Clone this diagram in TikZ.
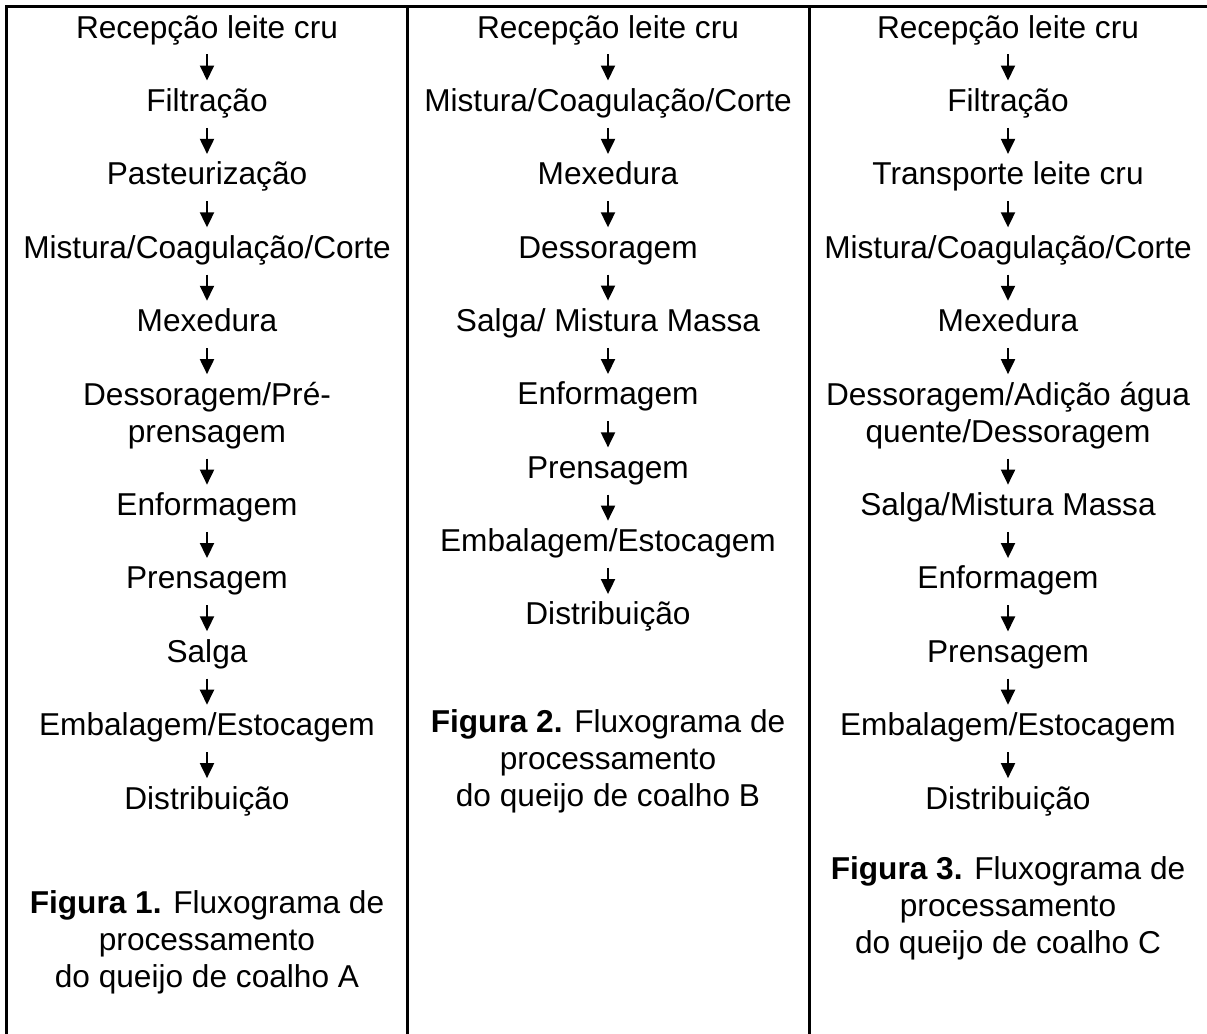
\documentclass[tikz,border=0pt]{standalone}
\usepackage{fontspec}
\setmainfont{Liberation Sans}
\usepackage{tikz}
\usetikzlibrary{positioning,arrows.meta}
\newcommand{\fs}{\rule[-0.25em]{0pt}{0.97em}}

\begin{document}
\begin{tikzpicture}[x=0.02cm, y=-0.02cm, node distance=0.852cm,
        etapa/.style={inner sep=0pt, outer sep=0pt, align=center, font=\fontsize{18}{20.9}\selectfont},
        seta/.style={-{Triangle[width=0.28cm,length=0.3cm]}, line width=1.1pt, shorten <=0.17cm, shorten >=0.16cm}]
        \useasboundingbox (0,0) rectangle (1207,1034);
        \draw[line width=1.7pt] (6.5,1034) -- (6.5,6.5) -- (1207,6.5);
        \draw[line width=1.7pt] (407.5,6.5) -- (407.5,1034);
        \draw[line width=1.7pt] (809,6.5) -- (809,1034);

        \node[etapa] (A1) at (207,30.5) {Recepção leite cru\fs};
        \node[etapa] (A2) [below=of A1] {Filtração\fs};
        \node[etapa] (A3) [below=of A2] {Pasteurização\fs};
        \node[etapa] (A4) [below=of A3] {Mistura/Coagulação/Corte\fs};
        \node[etapa] (A5) [below=of A4] {Mexedura\fs};
        \node[etapa] (A6) [below=of A5] {Dessoragem/Pré-\fs\\prensagem\fs};
        \node[etapa] (A7) [below=of A6] {Enformagem\fs};
        \node[etapa] (A8) [below=of A7] {Prensagem\fs};
        \node[etapa] (A9) [below=of A8] {Salga\fs};
        \node[etapa] (A10) [below=of A9] {Embalagem/Estocagem\fs};
        \node[etapa] (A11) [below=of A10] {Distribuição\fs};
        \node[etapa] (FA) [below=1.48cm of A11] {\textbf{Figura 1.} Fluxograma de\fs\\processamento\fs\\do queijo de coalho A\fs};

        \node[etapa] (B1) at (608,30.5) {Recepção leite cru\fs};
        \node[etapa] (B2) [below=of B1] {Mistura/Coagulação/Corte\fs};
        \node[etapa] (B3) [below=of B2] {Mexedura\fs};
        \node[etapa] (B4) [below=of B3] {Dessoragem\fs};
        \node[etapa] (B5) [below=of B4] {Salga/ Mistura Massa\fs};
        \node[etapa] (B6) [below=of B5] {Enformagem\fs};
        \node[etapa] (B7) [below=of B6] {Prensagem\fs};
        \node[etapa] (B8) [below=of B7] {Embalagem/Estocagem\fs};
        \node[etapa] (B9) [below=of B8] {Distribuição\fs};
        \node[etapa] (FB) [below=1.54cm of B9] {\textbf{Figura 2.} Fluxograma de\fs\\processamento\fs\\do queijo de coalho B\fs};

        \node[etapa] (C1) at (1008,30.5) {Recepção leite cru\fs};
        \node[etapa] (C2) [below=of C1] {Filtração\fs};
        \node[etapa] (C3) [below=of C2] {Transporte leite cru\fs};
        \node[etapa] (C4) [below=of C3] {Mistura/Coagulação/Corte\fs};
        \node[etapa] (C5) [below=of C4] {Mexedura\fs};
        \node[etapa] (C6) [below=of C5] {Dessoragem/Adição água\fs\\quente/Dessoragem\fs};
        \node[etapa] (C7) [below=of C6] {Salga/Mistura Massa\fs};
        \node[etapa] (C8) [below=of C7] {Enformagem\fs};
        \node[etapa] (C9) [below=of C8] {Prensagem\fs};
        \node[etapa] (C10) [below=of C9] {Embalagem/Estocagem\fs};
        \node[etapa] (C11) [below=of C10] {Distribuição\fs};
        \node[etapa] (FC) [below=0.8cm of C11] {\textbf{Figura 3.} Fluxograma de\fs\\processamento\fs\\do queijo de coalho C\fs};

        \path (A1) edge[seta] (A2)
              (A2) edge[seta] (A3)
              (A3) edge[seta] (A4)
              (A4) edge[seta] (A5)
              (A5) edge[seta] (A6)
              (A6) edge[seta] (A7)
              (A7) edge[seta] (A8)
              (A8) edge[seta] (A9)
              (A9) edge[seta] (A10)
              (A10) edge[seta] (A11);
        \path (B1) edge[seta] (B2)
              (B2) edge[seta] (B3)
              (B3) edge[seta] (B4)
              (B4) edge[seta] (B5)
              (B5) edge[seta] (B6)
              (B6) edge[seta] (B7)
              (B7) edge[seta] (B8)
              (B8) edge[seta] (B9);
        \path (C1) edge[seta] (C2)
              (C2) edge[seta] (C3)
              (C3) edge[seta] (C4)
              (C4) edge[seta] (C5)
              (C5) edge[seta] (C6)
              (C6) edge[seta] (C7)
              (C7) edge[seta] (C8)
              (C8) edge[seta] (C9)
              (C9) edge[seta] (C10)
              (C10) edge[seta] (C11);
    \end{tikzpicture}
\end{document}
